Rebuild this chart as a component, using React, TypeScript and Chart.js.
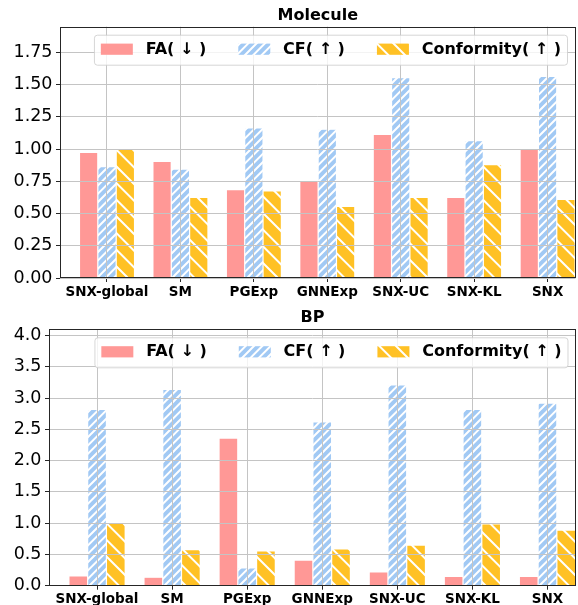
import React, { useEffect, useLayoutEffect, useRef } from 'react';
import { Chart, registerables } from 'chart.js';

Chart.register(...registerables);

// ---------- data ----------
const categories = ['SNX-global', 'SM', 'PGExp', 'GNNExp', 'SNX-UC', 'SNX-KL', 'SNX'];
const seriesNames = ['FA( ↓ )', 'CF( ↑ )', 'Conformity( ↑ )'];

const moleculeFA = [0.975, 0.905, 0.685, 0.755, 1.115, 0.625, 1.005];
const moleculeCF = [0.865, 0.845, 1.165, 1.155, 1.555, 1.065, 1.565];
const moleculeConf = [1.0, 0.625, 0.675, 0.555, 0.625, 0.88, 0.61];

const bpFA = [0.155, 0.135, 2.36, 0.41, 0.22, 0.15, 0.15];
const bpCF = [2.82, 3.14, 0.285, 2.62, 3.21, 2.82, 2.92];
const bpConf = [1.0, 0.575, 0.555, 0.59, 0.65, 0.99, 0.89];

const moleculeTicks = [0, 0.25, 0.5, 0.75, 1.0, 1.25, 1.5, 1.75];
const bpTicks = [0, 0.5, 1.0, 1.5, 2.0, 2.5, 3.0, 3.5, 4.0];

// ---------- styles ----------
const FONT = '"DejaVu Sans", sans-serif';
const FA_COLOR = '#FF9896';
const CF_COLOR = '#A1C9F4';
const CONF_COLOR = '#FFC125';

function makeHatch(bg: string, dir: '/' | '\\', tile: number, n: number, lw: number): CanvasPattern | string {
  const c = document.createElement('canvas');
  c.width = tile;
  c.height = tile;
  const ctx = c.getContext('2d');
  if (!ctx) return bg;
  ctx.fillStyle = bg;
  ctx.fillRect(0, 0, tile, tile);
  ctx.strokeStyle = '#ffffff';
  ctx.lineWidth = lw;
  const s = tile / n;
  ctx.beginPath();
  if (dir === '/') {
    for (let k = -1; k <= 2 * n + 1; k++) {
      const c0 = k * s;
      ctx.moveTo(c0 + tile, -tile);
      ctx.lineTo(c0 - 2 * tile, 2 * tile);
    }
  } else {
    for (let k = -n - 1; k <= n + 1; k++) {
      const c0 = k * s;
      ctx.moveTo(c0 - tile, -tile);
      ctx.lineTo(c0 + 2 * tile, 2 * tile);
    }
  }
  ctx.stroke();
  return ctx.createPattern(c, 'repeat') || bg;
}

interface PanelSpec {
  title: string;
  fa: number[];
  cf: number[];
  conf: number[];
  yMax: number;
  yTicks: number[];
  decimals: number;
  yAxisWidth: number;
  xAxisHeight: number;
  topPad: number;
  rightPad: number;
  titleY: number;
}

function buildConfig(p: PanelSpec): any {
  const cfPattern = makeHatch(CF_COLOR, '/', 25, 3, 2);
  const confPattern = makeHatch(CONF_COLOR, '\\', 50, 3, 2);
  const fills: any[] = [FA_COLOR, cfPattern, confPattern];

  const overlay = {
    id: 'overlay',
    afterDraw(chart: any) {
      const ctx: CanvasRenderingContext2D = chart.ctx;
      const a = chart.chartArea;
      ctx.save();
      // frame
      ctx.strokeStyle = '#262626';
      ctx.lineWidth = 1;
      const l = Math.round(a.left) + 0.5;
      const t = Math.round(a.top) + 0.5;
      const r = Math.round(a.right) - 0.5;
      const b = Math.round(a.bottom) - 0.5;
      ctx.strokeRect(l, t, r - l, b - t);
      // title
      ctx.font = `bold 16px ${FONT}`;
      ctx.fillStyle = '#000';
      ctx.textAlign = 'center';
      ctx.textBaseline = 'middle';
      ctx.fillText(p.title, (a.left + a.right) / 2, p.titleY);
      // legend
      const fs = 16;
      ctx.font = `bold ${fs}px ${FONT}`;
      const widths = seriesNames.map((n) => ctx.measureText(n).width);
      const pad = 6.4, hl = 32, htp = 12.8, cs = 32;
      const total = pad * 2 + seriesNames.length * (hl + htp) + widths.reduce((s, w) => s + w, 0) + (seriesNames.length - 1) * cs;
      const h = 30;
      const right = a.right - 8;
      const left = right - total;
      const top = a.top + 8.5;
      ctx.beginPath();
      const rr = 3;
      ctx.moveTo(left + rr, top);
      ctx.lineTo(left + total - rr, top);
      ctx.quadraticCurveTo(left + total, top, left + total, top + rr);
      ctx.lineTo(left + total, top + h - rr);
      ctx.quadraticCurveTo(left + total, top + h, left + total - rr, top + h);
      ctx.lineTo(left + rr, top + h);
      ctx.quadraticCurveTo(left, top + h, left, top + h - rr);
      ctx.lineTo(left, top + rr);
      ctx.quadraticCurveTo(left, top, left + rr, top);
      ctx.closePath();
      ctx.fillStyle = 'rgba(255,255,255,0.8)';
      ctx.fill();
      ctx.strokeStyle = 'rgba(204,204,204,0.8)';
      ctx.lineWidth = 1;
      ctx.stroke();
      let x = left + pad;
      const cy = top + h / 2 - 1;
      ctx.textAlign = 'left';
      ctx.textBaseline = 'middle';
      seriesNames.forEach((name, i) => {
        ctx.fillStyle = fills[i];
        ctx.fillRect(x, cy - 5.6, hl, 11.2);
        ctx.fillStyle = '#000';
        ctx.fillText(name, x + hl + htp, cy + 0.5);
        x += hl + htp + widths[i] + cs;
      });
      ctx.restore();
    },
  };

  const mk = (label: string, vals: number[], bg: any) => ({
    label,
    data: vals.map((v, i) => ({ x: i, y: v })),
    backgroundColor: bg,
    borderColor: '#ffffff',
    borderWidth: 0.6,
    categoryPercentage: 0.75,
    barPercentage: 1.0,
  });

  return {
    type: 'bar',
    data: {
      datasets: [
        mk(seriesNames[0], p.fa, fills[0]),
        mk(seriesNames[1], p.cf, fills[1]),
        mk(seriesNames[2], p.conf, fills[2]),
      ],
    },
    options: {
      responsive: false,
      animation: false,
      devicePixelRatio: 1,
      layout: { padding: { top: p.topPad, right: p.rightPad, left: 0, bottom: 0 } },
      plugins: { legend: { display: false }, title: { display: false }, tooltip: { enabled: false } },
      scales: {
        x: {
          type: 'linear',
          min: -0.64,
          max: 6.38,
          offset: false,
          grid: { offset: false, color: '#c4c4c4', lineWidth: 1, z: 1, tickLength: 4, tickColor: '#262626', drawTicks: true },
          border: { display: false },
          afterBuildTicks: (scale: any) => {
            scale.ticks = categories.map((_, i) => ({ value: i }));
          },
          afterFit: (scale: any) => {
            scale.height = p.xAxisHeight;
          },
          ticks: {
            autoSkip: false,
            maxRotation: 0,
            minRotation: 0,
            padding: 2,
            color: '#000',
            font: { family: FONT, size: 13.5, weight: 'bold' },
            callback: (v: any) => categories[Math.round(Number(v))] ?? '',
          },
        },
        y: {
          type: 'linear',
          min: 0,
          max: p.yMax,
          grid: { color: '#c4c4c4', lineWidth: 1, z: 1, tickLength: 4, tickColor: '#262626' },
          border: { display: false },
          afterBuildTicks: (scale: any) => {
            scale.ticks = p.yTicks.map((v) => ({ value: v }));
          },
          afterFit: (scale: any) => {
            scale.width = p.yAxisWidth;
          },
          ticks: {
            padding: 3.5,
            color: '#000',
            font: { family: FONT, size: 17.5 },
            callback: (v: any) => Number(v).toFixed(p.decimals),
          },
        },
      },
    },
    plugins: [overlay],
  };
}

const moleculeSpec: PanelSpec = {
  title: 'Molecule',
  fa: moleculeFA,
  cf: moleculeCF,
  conf: moleculeConf,
  yMax: 1.95,
  yTicks: moleculeTicks,
  decimals: 2,
  yAxisWidth: 60,
  xAxisHeight: 22,
  topPad: 26.7,
  rightPad: 2.5,
  titleY: 16,
};

const bpSpec: PanelSpec = {
  title: 'BP',
  fa: bpFA,
  cf: bpCF,
  conf: bpConf,
  yMax: 4.1,
  yTicks: bpTicks,
  decimals: 1,
  yAxisWidth: 49,
  xAxisHeight: 19.3,
  topPad: 29.3,
  rightPad: 2,
  titleY: 18.3,
};

function Panel({ spec, width, height }: { spec: PanelSpec; width: number; height: number }) {
  const ref = useRef<HTMLCanvasElement>(null);
  useEffect(() => {
    if (!ref.current) return;
    const chart = new Chart(ref.current, buildConfig(spec));
    return () => chart.destroy();
  }, [spec]);
  return (
    <canvas
      ref={ref}
      width={width}
      height={height}
      style={{ display: 'block', width: `${width}px`, height: `${height}px` }}
    />
  );
}

export default function App() {
  useLayoutEffect(() => {
    document.body.style.margin = '0';
    document.body.style.background = '#ffffff';
  }, []);
  return (
    <div style={{ width: 578, height: 605, background: '#fff' }}>
      <Panel spec={moleculeSpec} width={578} height={300} />
      <Panel spec={bpSpec} width={578} height={305} />
    </div>
  );
}
